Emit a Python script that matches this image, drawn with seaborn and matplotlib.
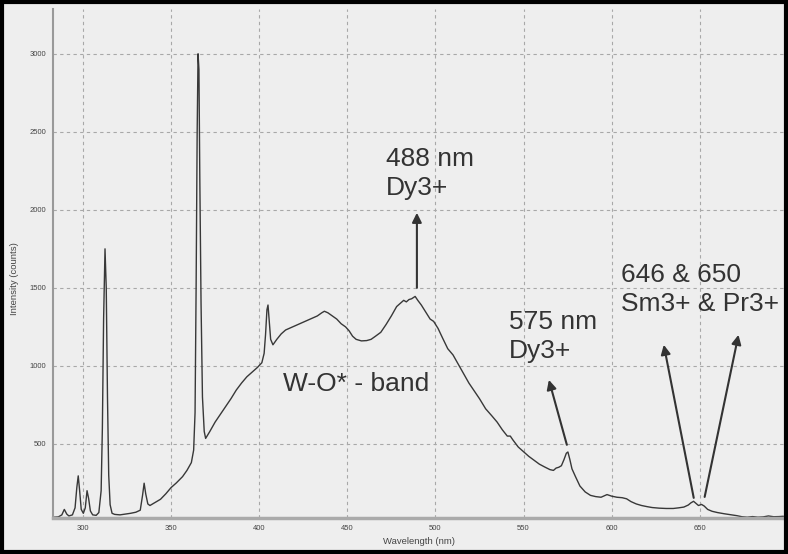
import matplotlib
matplotlib.use("Agg")
import matplotlib.pyplot as plt
import seaborn as sns
import pandas as pd
from matplotlib.patches import Rectangle

wavelength = [283.5, 286, 288, 289.4, 290.8, 292, 294, 295.5, 296.5, 297.3, 298.1, 299,
              300.2, 301.3, 302.3, 303.2, 304.2, 305.5, 307.5, 309, 310.3, 311, 311.7,
              312.5, 313.2, 313.9, 314.6, 315.4, 316.5, 318, 321, 324, 327, 330, 332.5,
              333.8, 334.7, 335.6, 336.8, 338, 341, 344, 347, 350, 353, 356.5, 359, 361.5,
              362.8, 363.6, 364.2, 364.8, 365.3, 365.8, 366.3, 367, 367.8, 368.8, 369.6,
              372, 375, 378, 381, 384, 387, 390, 393, 396, 399, 401.5, 402.8, 403.6,
              404.4, 405, 405.6, 406.5, 407.8, 410, 412.5, 415, 418, 421, 424, 427, 430,
              433, 435.5, 437, 439, 441.5, 444, 446.5, 449, 451, 453, 455, 458, 461,
              463.5, 466, 469, 472, 475, 478, 480.5, 482, 483.5, 485, 486.5, 488.5, 490,
              492, 494.5, 497, 499, 501.5, 504, 507, 510, 513, 516, 519, 522, 525, 528.5,
              532, 535, 538, 540.8, 542.5, 544, 547, 550, 553, 556, 559, 562, 565, 567,
              568.5, 570, 571.5, 573, 574.3, 575.2, 576.3, 577.5, 579.5, 582, 585, 588,
              591, 594, 597.4, 600, 603, 606, 608.5, 611, 614, 617, 620, 623, 627, 631,
              635, 638, 641, 643.5, 645, 646.5, 648, 649.3, 651, 652.5, 654.5, 657, 660,
              664, 668, 671, 674, 677, 680, 683, 686, 689, 692, 695, 697.5]
intensity = [30, 32, 45, 80, 50, 38, 45, 90, 220, 295, 200, 80,
             55, 90, 200, 150, 70, 45, 42, 60, 200, 600, 1300,
             1750, 1500, 800, 300, 110, 55, 48, 45, 50, 55, 62, 75,
             170, 248, 180, 115, 105, 125, 145, 180, 220, 250, 290, 330, 380,
             460, 700, 1500, 2500, 3000, 2900, 2200, 1400, 800, 580, 535,
             580, 640, 690, 740, 790, 845, 890, 930, 960, 990, 1020, 1080, 1200,
             1360, 1390, 1300, 1170, 1135, 1170, 1205, 1230, 1245, 1260, 1275, 1290, 1305,
             1320, 1340, 1350, 1340, 1320, 1300, 1270, 1250, 1225, 1190, 1170, 1160, 1162,
             1170, 1190, 1215, 1265, 1320, 1380, 1405, 1420, 1410, 1425, 1430, 1445, 1420,
             1390, 1345, 1300, 1285, 1240, 1180, 1110, 1070, 1010, 950, 890, 840, 790, 725,
             680, 640, 590, 550, 550, 525, 480, 450, 420, 395, 370, 352, 335, 330,
             345, 350, 360, 400, 440, 448, 400, 340, 290, 230, 192, 170,
             162, 158, 175, 165, 158, 155, 148, 130, 115, 105, 98, 92, 88, 86,
             86, 90, 95, 108, 122, 132, 118, 105, 112, 102, 80, 68, 60,
             52, 45, 40, 33, 30, 34, 30, 32, 38, 33, 34, 36]

x_ticks = [300, 350, 400, 450, 500, 550, 600, 650]
y_ticks = [500, 1000, 1500, 2000, 2500, 3000]

sns.set_theme(style="white")
plt.rcParams['font.family'] = ['Liberation Sans', 'DejaVu Sans']

bg = "#eeeeee"
fig = plt.figure(figsize=(7.88, 5.54), dpi=100, facecolor=bg)
ax = fig.add_axes([0.0673, 0.065, 0.928, 0.919])
ax.set_facecolor(bg)

df = pd.DataFrame({"Wavelength": wavelength, "Intensity": intensity})
sns.lineplot(data=df, x="Wavelength", y="Intensity", ax=ax, color="#383838",
             lw=1.0, estimator=None, sort=True)

ax.set_xlim(283, 698)
ax.set_ylim(25, 3288)
ax.set_xticks(x_ticks)
ax.set_yticks(y_ticks)
ax.set_xticklabels([str(v) for v in x_ticks])
ax.set_yticklabels([str(v) for v in y_ticks])
ax.tick_params(axis='both', labelsize=5.5, colors="#777777", length=3, width=0.8,
               direction='out', pad=2)
for lab in ax.get_xticklabels() + ax.get_yticklabels():
    lab.set_color("#444444")
ax.grid(True, linestyle=(0, (3, 3)), color="#a8a8a8", lw=0.8)
for s in ["top", "right"]:
    ax.spines[s].set_visible(False)
ax.spines["left"].set_color("#999999")
ax.spines["left"].set_linewidth(1.5)
ax.spines["bottom"].set_color("#aaaaaa")
ax.spines["bottom"].set_linewidth(2.5)

ax.set_xlabel("Wavelength (nm)", fontsize=6.8, color="#444444", labelpad=4)
ax.set_ylabel("Intensity (counts)", fontsize=6.8, color="#444444", labelpad=4)
ax.yaxis.set_label_coords(-0.047, 0.47)

tkw = dict(fontsize=19, color="#333333", va="top", ha="left", linespacing=1.25)
ax.text(472.1, 2404, "488 nm\nDy3+", **tkw)
ax.text(541.8, 1359, "575 nm\nDy3+", **tkw)
ax.text(605.2, 1660, "646 & 650\nSm3+ & Pr3+", **tkw)
ax.text(413.3, 962, "W-O* - band", **tkw)

akw = dict(arrowstyle="-|>", color="#333333", lw=1.5, mutation_scale=14,
           shrinkA=0, shrinkB=0)
ax.annotate("", xy=(489.5, 1981), xytext=(489.5, 1500), arrowprops=akw)
ax.annotate("", xy=(564.4, 910), xytext=(574.6, 494), arrowprops=akw)
ax.annotate("", xy=(629.6, 1135), xytext=(646.6, 154), arrowprops=akw)
ax.annotate("", xy=(672.0, 1199), xytext=(652.8, 160), arrowprops=akw)

fig.patches.append(Rectangle((0.002, 0.003), 0.996, 0.994, transform=fig.transFigure,
                             fill=False, edgecolor="black", lw=3))

fig.savefig("out.png", dpi=100, facecolor=bg)
